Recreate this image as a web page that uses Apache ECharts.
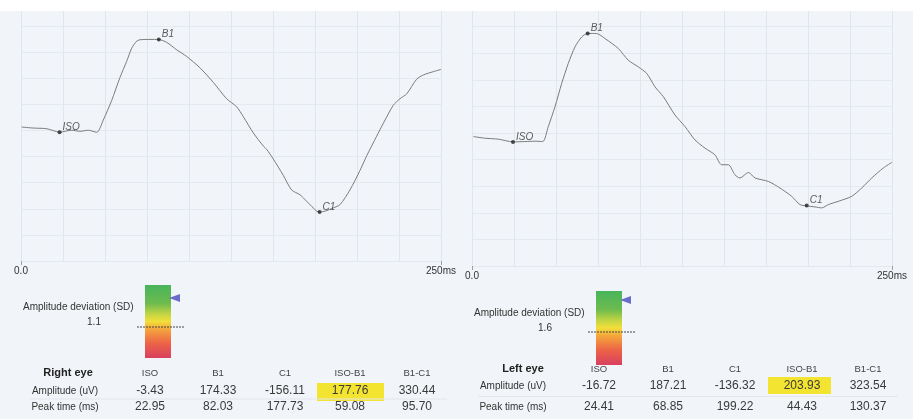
<!DOCTYPE html>
<html>
<head>
<meta charset="utf-8">
<title>ERG report</title>
<script src="https://cdn.jsdelivr.net/npm/echarts@6/dist/echarts.min.js"></script>
<style>
  html, body { margin: 0; padding: 0; background: #f1f4f8; }
  #chart { width: 913px; height: 419px; }
</style>
</head>
<body>
<div id="chart"></div>
<script>
// table columns
const columns = ['ISO', 'B1', 'C1', 'ISO-B1', 'B1-C1'];
// right eye (left panel)
const rightAmp = [-3.43, 174.33, -156.11, 177.76, 330.44];
const rightPeak = [22.95, 82.03, 177.73, 59.08, 95.70];
// left eye (right panel)
const leftAmp = [-16.72, 187.21, -136.32, 203.93, 323.54];
const leftPeak = [24.41, 68.85, 199.22, 44.43, 130.37];
// amplitude deviation (SD)
const sdValues = [1.1, 1.6];
// x axis end labels
const timeTicks = [0, 250];

// traced waveforms, time in ms / amplitude in uV
const rightTime = [0.4, 7.3, 15.3, 22.95, 30.2, 35.1, 40.1, 45.1, 49.0, 54.0, 58.9, 62.9, 65.9, 68.9, 70.8, 76.8, 82.0,
  86.7, 92.7, 98.6, 106.5, 114.5, 122.4, 128.4, 132.3, 138.3, 144.2, 146.2, 150.2, 156.1, 161.1, 166.1, 170.1, 176.0, 177.7,
  181.0, 185.9, 189.9, 195.8, 201.8, 205.8, 211.7, 215.7, 221.6, 225.6, 229.6, 235.5, 239.5, 245.4, 250];
const rightVolt = [6.6, 4.7, 3.4, -3.0, 0.5, -1.5, 0.5, -3.5, 20.2, 57.7, 101.5, 132.6, 157.7, 171.3, 173.8, 174.5, 174.3,
  168.9, 154.5, 141.9, 120.2, 92.1, 60.9, 45.3, 26.6, -4.7, -29.6, -36.0, -54.7, -85.8, -113.9, -123.2, -135.8, -154.5, -156.1,
  -154.5, -148.3, -142.0, -113.9, -76.4, -48.3, -10.9, 14.0, 48.3, 60.9, 70.2, 98.3, 106.4, 112.7, 117.0];

const leftTime = [0.8, 7.7, 15.7, 24.4, 31.5, 37.5, 42.1, 45.4, 49.4, 53.4, 57.3, 61.3, 65.3, 68.9, 74.2, 79.2, 87.1,
  93.0, 99.0, 104.0, 108.9, 113.9, 120.8, 126.8, 132.7, 138.7, 144.6, 148.6, 152.6, 156.5, 159.5, 164.5, 168.5, 176.4,
  183.3, 190.3, 195.2, 199.2, 204.2, 208.2, 212.1, 218.0, 226.0, 232.0, 237.9, 244.8, 250];
const leftVolt = [-6.7, -9.8, -11.6, -16.7, -16.1, -15.4, -16.1, 12.0, 49.4, 93.3, 130.7, 161.8, 180.5, 187.2, 186.9, 177.5, 158.8,
  136.9, 124.3, 112.0, 86.9, 68.2, 33.9, 12.0, -12.9, -28.5, -41.0, -59.7, -59.7, -78.5, -84.6, -74.2, -84.6, -91.0,
  -103.4, -119.1, -134.6, -137.0, -139.0, -140.8, -134.6, -128.5, -119.1, -103.4, -84.6, -65.9, -55.0];

const FONT = '"Liberation Sans", Arial, sans-serif';

const chartDom = document.getElementById('chart');
const myChart = echarts.init(chartDom);

// grid axis: only the 25 ms split lines
function xGridAxis(i) {
  return {
    gridIndex: i,
    type: 'value',
    min: 0,
    max: 250,
    interval: 25,
    axisLine: { show: false, onZero: false },
    axisTick: { show: false },
    axisLabel: { show: false },
    splitLine: { lineStyle: { color: '#e0e6ee', width: 1 } }
  };
}

// overlay axis: end ticks and labels
function xLabelAxis(i) {
  return {
    gridIndex: i,
    type: 'value',
    position: 'bottom',
    min: 0,
    max: 250,
    axisLine: { show: false, onZero: false },
    axisTick: { show: true, customValues: timeTicks, length: 4, lineStyle: { color: '#9aa0a8' } },
    axisLabel: {
      customValues: timeTicks,
      formatter: (v) => (v === 0 ? '0.0' : v + 'ms'),
      margin: 5,
      fontSize: 10,
      fontFamily: FONT,
      color: '#333'
    },
    splitLine: { show: false }
  };
}

function yAxisOf(i) {
  return {
    gridIndex: i,
    type: 'value',
    min: -250,
    max: 250,
    interval: 50,
    axisLine: { show: false, onZero: false },
    axisTick: { show: false },
    axisLabel: { show: false },
    splitLine: { lineStyle: { color: '#e4e9f0', width: 1 } }
  };
}

function markers(peak, amp) {
  return columns.slice(0, 3).map((name, i) => ({ name: name, value: [peak[i], amp[i]] }));
}

function traceSeries(i, time, volt) {
  return {
    type: 'line',
    xAxisIndex: i,
    yAxisIndex: i,
    data: time.map((t, k) => [t, volt[k]]),
    showSymbol: false,
    smooth: 0.25,
    lineStyle: { color: '#7b7b7b', width: 1 },
    z: 3
  };
}

function markerSeries(i, peak, amp) {
  return {
    type: 'scatter',
    xAxisIndex: i,
    yAxisIndex: i,
    data: markers(peak, amp),
    symbolSize: 4,
    itemStyle: { color: '#222' },
    label: {
      show: true,
      formatter: '{b}',
      position: 'right',
      distance: 1,
      offset: [0, -5],
      fontStyle: 'italic',
      fontSize: 10,
      fontFamily: FONT,
      color: '#333'
    },
    z: 4
  };
}

function gradientBar() {
  return new echarts.graphic.LinearGradient(0, 0, 0, 1, [
    { offset: 0, color: '#48b45c' },
    { offset: 0.25, color: '#6dbb4e' },
    { offset: 0.4, color: '#c3d543' },
    { offset: 0.5, color: '#f2df3a' },
    { offset: 0.6, color: '#f5a83c' },
    { offset: 0.8, color: '#ec6347' },
    { offset: 1, color: '#d8405f' }
  ]);
}

function text(x, y, str, opts) {
  return {
    type: 'text',
    z: 10,
    style: Object.assign({
      text: str,
      x: x,
      y: y,
      fill: '#333',
      fontSize: 10,
      fontFamily: FONT,
      textAlign: 'center',
      textVerticalAlign: 'middle'
    }, opts || {})
  };
}

// one bottom panel: SD bar + table
function panel(p) {
  const els = [];
  els.push(text(p.sdTextX, p.sdTextY, 'Amplitude deviation (SD)', { textAlign: 'left' }));
  els.push(text(p.sdValX, p.sdTextY + 15, p.sd.toFixed(1)));
  els.push({ type: 'rect', z: 5, shape: { x: p.barX, y: p.barY, width: 26, height: p.barH }, style: { fill: gradientBar() } });
  els.push({
    type: 'polygon', z: 6,
    shape: { points: [[p.barX + 24, p.triY], [p.barX + 35, p.triY - 4], [p.barX + 35, p.triY + 4]] },
    style: { fill: '#6a6ec8' }
  });
  els.push({
    type: 'line', z: 6,
    shape: { x1: p.barX - 8, y1: p.dashY, x2: p.barX + 40, y2: p.dashY },
    style: { stroke: '#444', lineWidth: 1, lineDash: [2, 1] }
  });
  // highlighted ISO-B1 amplitude
  els.push({ type: 'rect', z: 5, shape: { x: p.hiX, y: p.hiY, width: p.hiW, height: p.hiH }, style: { fill: '#f3e431' } });
  els.push({
    type: 'line', z: 5,
    shape: { x1: p.labelX - 35, y1: (p.rowY[1] + p.rowY[2]) / 2, x2: p.colX[4] + 30, y2: (p.rowY[1] + p.rowY[2]) / 2 },
    style: { stroke: '#e4e7ec', lineWidth: 1 }
  });
  els.push(text(p.headX, p.rowY[0], p.title, { fontSize: 11, fontWeight: 'bold', fill: '#222' }));
  els.push(text(p.labelX, p.rowY[1], 'Amplitude (uV)'));
  els.push(text(p.labelX, p.rowY[2], 'Peak time (ms)'));
  columns.forEach((c, i) => {
    els.push(text(p.colX[i], p.rowY[0], c, { fontSize: 9.5, fill: '#444' }));
    els.push(text(p.colX[i], p.rowY[1], p.amp[i].toFixed(2), { fontSize: 12, fill: '#3a3a3a' }));
    els.push(text(p.colX[i], p.rowY[2], p.peak[i].toFixed(2), { fontSize: 12, fill: '#3a3a3a' }));
  });
  return els;
}

const graphics = [
  { type: 'rect', z: 100, shape: { x: 0, y: 0, width: 913, height: 11 }, style: { fill: '#ffffff' } }
].concat(panel({
  title: 'Right eye', sd: sdValues[0], amp: rightAmp, peak: rightPeak,
  sdTextX: 23, sdTextY: 307, sdValX: 94,
  barX: 145, barY: 285, barH: 73, triY: 298, dashY: 327,
  headX: 68, labelX: 65, colX: [150, 218, 285, 350, 417], rowY: [373, 391, 407],
  hiX: 317, hiY: 383, hiW: 67, hiH: 18
})).concat(panel({
  title: 'Left eye', sd: sdValues[1], amp: leftAmp, peak: leftPeak,
  sdTextX: 474, sdTextY: 313, sdValX: 545,
  barX: 596, barY: 291, barH: 74, triY: 300, dashY: 332,
  headX: 523, labelX: 513, colX: [599, 668, 735, 802, 868], rowY: [369, 386, 407],
  hiX: 768, hiY: 377, hiW: 63, hiH: 17
}));

const option = {
  animation: false,
  backgroundColor: 'transparent',
  grid: [
    { left: 21, top: -6, width: 420, height: 267 },
    { left: 472, top: -1, width: 420, height: 267 }
  ],
  xAxis: [xGridAxis(0), xGridAxis(1), xLabelAxis(0), xLabelAxis(1)],
  yAxis: [yAxisOf(0), yAxisOf(1)],
  series: [
    traceSeries(0, rightTime, rightVolt),
    markerSeries(0, rightPeak, rightAmp),
    traceSeries(1, leftTime, leftVolt),
    markerSeries(1, leftPeak, leftAmp)
  ],
  graphic: graphics
};

myChart.setOption(option);
</script>
</body>
</html>
